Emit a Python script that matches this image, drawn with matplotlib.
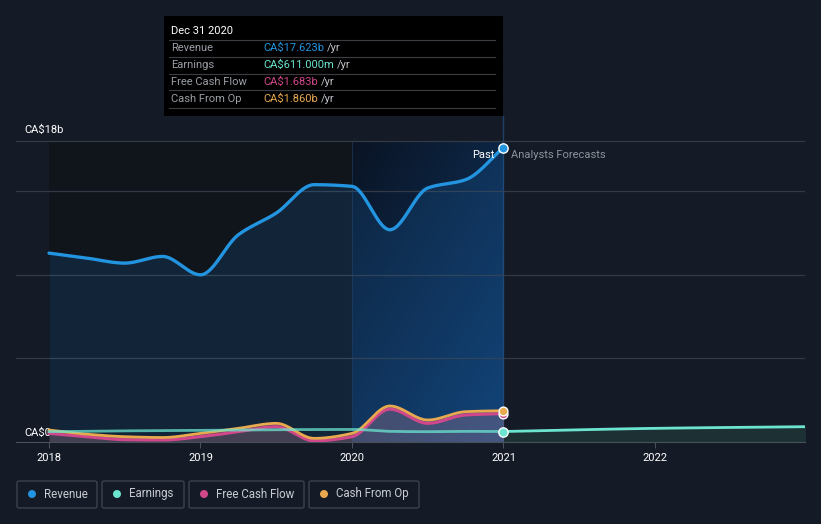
import numpy as np
import matplotlib.pyplot as plt
from matplotlib.patches import FancyBboxPatch, Rectangle, Ellipse
from matplotlib.colors import LinearSegmentedColormap

plt.rcParams['font.family'] = ['Roboto', 'DejaVu Sans']

# quarterly history, CA$ billions
quarters = [2018.0, 2018.25, 2018.5, 2018.75, 2019.0, 2019.25, 2019.5, 2019.75,
            2020.0, 2020.25, 2020.5, 2020.75, 2021.0]
revenue = [11.3, 11.0, 10.7, 11.1, 10.0, 12.4, 13.7, 15.4, 15.3, 12.7, 15.2, 15.7, 17.623]
earnings = [0.6, 0.62, 0.65, 0.66, 0.68, 0.7, 0.72, 0.73, 0.74, 0.62, 0.6, 0.62, 0.611]
free_cash_flow = [0.5, 0.3, 0.12, 0.1, 0.3, 0.6, 0.9, 0.05, 0.3, 1.95, 1.1, 1.6, 1.683]
cash_from_op = [0.7, 0.45, 0.3, 0.25, 0.5, 0.8, 1.1, 0.2, 0.5, 2.14, 1.3, 1.8, 1.86]

# analyst forecast for earnings
fc_years = [2021.0, 2022.0, 2023.0]
fc_earnings = [0.611, 0.8, 0.9]

x_ticks = [2018, 2019, 2020, 2021, 2022]
legend_names = ['Revenue', 'Earnings', 'Free Cash Flow', 'Cash From Op']

BG = '#151b26'
C_REV = '#2394df'
C_EARN = '#6ce5d0'
C_FCF = '#d0488b'
C_CFO = '#e8a94f'


def smooth(x, y, n=30):
    # monotone cubic for drawing only (like d3 curveMonotoneX)
    x = np.asarray(x, float)
    y = np.asarray(y, float)
    h = np.diff(x)
    d = np.diff(y) / h
    m = np.zeros_like(y)
    m[0], m[-1] = d[0], d[-1]
    for i in range(1, len(y) - 1):
        if d[i - 1] * d[i] <= 0:
            m[i] = 0
        else:
            m[i] = 3 * (h[i - 1] + h[i]) / ((2 * h[i] + h[i - 1]) / d[i - 1] + (h[i] + 2 * h[i - 1]) / d[i])
    xs, ys = [], []
    for i in range(len(h)):
        t = np.linspace(0, 1, n, endpoint=False)
        h00 = 2 * t**3 - 3 * t**2 + 1
        h10 = t**3 - 2 * t**2 + t
        h01 = -2 * t**3 + 3 * t**2
        h11 = t**3 - t**2
        xs.append(x[i] + t * h[i])
        ys.append(h00 * y[i] + h10 * h[i] * m[i] + h01 * y[i + 1] + h11 * h[i] * m[i + 1])
    xs.append([x[-1]])
    ys.append([y[-1]])
    return np.concatenate(xs), np.concatenate(ys)


fig = plt.figure(figsize=(8.21, 5.24), dpi=100, facecolor=BG)
W, H = 821, 524
ax = fig.add_axes([16 / W, 1 - 441.7 / H, 789 / W, 331.7 / H])
ax.set_facecolor(BG)
px_per_year = 151.5
ax.set_xlim(2018 - 33 / px_per_year, 2018 + 756 / px_per_year)
ax.set_ylim(0, 331.7 / 16.69)

# past background bands
ax.fill_between([2018, 2020], 0, 18, color='#10141b', zorder=0, lw=0)
gx_, gy_ = np.meshgrid(np.linspace(0, 1, 128), np.linspace(0, 1, 128))
grad = 0.55 * (1 - gy_) + 0.45 * gx_
cmap = LinearSegmentedColormap.from_list('past', ['#0a1424', '#103a6a'])
ax.imshow(grad, extent=[2020, 2021, 0, 18], aspect='auto', cmap=cmap, zorder=0.5, origin='lower')
ax.plot([2020, 2020], [0, 18], color='#182c45', lw=0.8, zorder=0.6)
ax.plot([2021, 2021], [0, 19.5], color='#1f4068', lw=1, zorder=0.6)

# grid
for g in [5, 10, 15, 18]:
    ax.axhline(g, color='#343a45', lw=0.9, zorder=1)

# revenue
rx, ry = smooth(quarters, revenue)
ax.fill_between(rx, 0, ry, color='#1f78c8', alpha=0.17, lw=0, zorder=2)
ax.plot(rx, ry, color=C_REV, lw=2.4, zorder=5, solid_capstyle='round')

# cash flows
cx, cy = smooth(quarters, cash_from_op)
fx, fy = smooth(quarters, free_cash_flow)
ax.fill_between(cx, 0, cy, color='#c88a9a', alpha=0.28, lw=0, zorder=2)
ax.plot(fx, fy, color=C_FCF, lw=2.2, zorder=4)
ax.plot(cx, cy, color=C_CFO, lw=2.0, zorder=4.2)

# earnings
ex, ey = smooth(quarters, earnings)
ax.plot(ex, ey, color=C_EARN, lw=2.0, alpha=0.75, zorder=4.5)
gx, gy = smooth(fc_years, fc_earnings)
ax.fill_between(gx, 0, gy, color='#24403f', alpha=0.6, lw=0, zorder=2)
ax.plot(gx, gy, color=C_EARN, lw=2.0, zorder=4.5)

# end markers
ax.scatter([2021], [revenue[-1]], s=45, color=C_REV, edgecolor='white', lw=1, zorder=7)
ax.scatter([2021], [free_cash_flow[-1]], s=40, color=C_FCF, edgecolor='white', lw=1, zorder=7)
ax.scatter([2021], [cash_from_op[-1]], s=40, color=C_CFO, edgecolor='white', lw=1, zorder=7.1)
ax.scatter([2021], [earnings[-1]], s=45, color=C_EARN, edgecolor='white', lw=1, zorder=7)

ax.text(2021 - 0.06, 17.2, 'Past', color='white', fontsize=8, ha='right', va='center', zorder=8)
ax.text(2021 + 0.05, 17.2, 'Analysts Forecasts', color='#8d929b', fontsize=8, ha='left', va='center', zorder=8)

# axes styling
for s in ['top', 'right', 'left']:
    ax.spines[s].set_visible(False)
ax.spines['bottom'].set_color('#4a505a')
ax.set_yticks([])
ax.set_xticks(x_ticks)
ax.set_xticklabels([str(t) for t in x_ticks])
ax.tick_params(axis='x', colors='#4a505a', labelcolor='white', labelsize=8, length=4, pad=4)
ax.text(2018 - 0.16, 18.35, 'CA$18b', color='white', fontsize=8, ha='left', va='bottom')
ax.text(2018 - 0.16, 0.2, 'CA$0', color='white', fontsize=8, ha='left', va='bottom')

# tooltip
fig.patches.append(Rectangle((164 / W, 1 - 116 / H), 339 / W, 100 / H, transform=fig.transFigure,
                             facecolor='black', edgecolor='none', zorder=10))
fig.text(171 / W, 1 - 31 / H, 'Dec 31 2020', color='white', fontsize=8, va='center', zorder=11)
rows = [('Revenue', 'CA$17.623b', C_REV), ('Earnings', 'CA$611.000m', C_EARN),
        ('Free Cash Flow', 'CA$1.683b', C_FCF), ('Cash From Op', 'CA$1.860b', C_CFO)]
renderer = fig.canvas.get_renderer()
for i, (lab, val, col) in enumerate(rows):
    yy = 48 + 17 * i
    fig.lines.append(plt.Line2D([169 / W, 495 / W], [1 - (yy - 8.5) / H] * 2, transform=fig.transFigure,
                                color='#3a3d42', lw=0.8, zorder=11))
    fig.text(171 / W, 1 - yy / H, lab, color='#9a9ea5', fontsize=8, va='center', zorder=11)
    t = fig.text(263 / W, 1 - yy / H, val, color=col, fontsize=8, va='center', zorder=11)
    wpx = t.get_window_extent(renderer).width
    fig.text((263 + wpx + 3) / W, 1 - yy / H, '/yr', color='#c0c4ca', fontsize=8, va='center', zorder=11)
fig.lines.append(plt.Line2D([169 / W, 495 / W], [1 - 107.5 / H] * 2, transform=fig.transFigure,
                            color='#3a3d42', lw=0.8, zorder=11))

# legend boxes
boxes = [(17, 97), (102, 184), (189, 304), (309, 419)]
for (x0, x1), name, col in zip(boxes, legend_names, [C_REV, C_EARN, C_FCF, C_CFO]):
    fig.patches.append(FancyBboxPatch((x0 / W, 1 - 508 / H), (x1 - x0) / W, 27 / H,
                                      boxstyle='round,pad=0,rounding_size=0.003', transform=fig.transFigure,
                                      facecolor='none', edgecolor='#3c424c', lw=1))
    fig.patches.append(Ellipse(((x0 + 15) / W, 1 - 494 / H), 8 / W, 8 / H, transform=fig.transFigure,
                               facecolor=col, edgecolor='none'))
    fig.text((x0 + 27) / W, 1 - 494 / H, name, color='#c8ccd2', fontsize=8.3, va='center')

fig.savefig('out.png', dpi=100, facecolor=BG)
